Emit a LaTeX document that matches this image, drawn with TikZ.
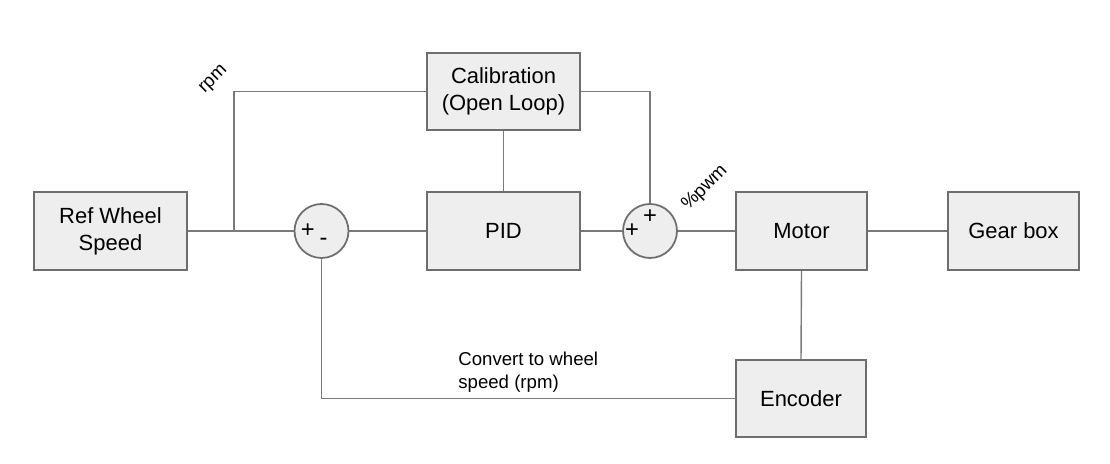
\documentclass[tikz,border=0pt]{standalone}
\usepackage{fontspec}
\setmainfont{Liberation Sans}
\usepackage{xcolor}
\usepackage{tikz}
\usetikzlibrary{calc, positioning}

\definecolor{blockfill}{HTML}{EEEEEE}
\definecolor{blockline}{HTML}{6E6E6E}
\definecolor{wireline}{HTML}{7A7A7A}

\begin{document}
\begin{tikzpicture}[
    block/.style={draw=blockline, fill=blockfill, line width=1pt, inner sep=0pt,
        align=center, font=\fontsize{12.5}{15.5}\selectfont},
    sumnode/.style={circle, draw=blockline, fill=blockfill, line width=1pt,
        minimum size=1.08cm, inner sep=0pt},
    wire/.style={draw=wireline, line width=0.8pt},
    lbl/.style={font=\fontsize{10.6}{13}\selectfont, inner sep=0pt},
    sgn/.style={font=\fontsize{13.5}{13.5}\selectfont, inner sep=0pt}
]
    \useasboundingbox (0,0) rectangle (22.2,9.28);

    % =================================================================
    % 1. CAC KHOI CHINH
    % =================================================================
    % Tin hieu dat
    \node[block, minimum width=3.06cm, minimum height=1.56cm] (ref) at (2.21,4.66) {Ref Wheel\\Speed};

    % Bo cong thu nhat
    \node[sumnode] (sumA) at (6.43,4.66) {};

    % Bo dieu khien
    \node[block, minimum width=3.06cm, minimum height=1.56cm] (pid) at (10.07,4.66) {PID};

    % Hieu chinh vong ho
    \node[block, minimum width=3.06cm, minimum height=1.54cm] (cal) at (10.07,7.45) {Calibration\\(Open Loop)};

    % Bo cong thu hai
    \node[sumnode] (sumB) at (13.0,4.66) {};

    % Dong co, hop so, encoder
    \node[block, minimum width=2.62cm, minimum height=1.56cm] (motor) at (16.03,4.66) {Motor};
    \node[block, minimum width=2.62cm, minimum height=1.56cm] (gear) at (20.27,4.66) {Gear box};
    \node[block, minimum width=2.60cm, minimum height=1.54cm] (enc) at (16.02,1.31) {Encoder};

    % =================================================================
    % 2. DAU CUA CAC BO CONG
    % =================================================================
    \node[sgn] (plusA) at ($(sumA)+(-0.276,0)$) {+};
    \node[sgn] (minusA) at ($(sumA)+(0.04,-0.214)$) {-};
    \node[sgn] (plusB) at ($(sumB)+(-0.36,0)$) {+};
    \node[sgn] (plusC) at ($(sumB)+(0,0.28)$) {+};

    % =================================================================
    % 3. CAC DUONG NOI
    % =================================================================
    \coordinate (split) at (4.68,4.66);
    \draw[wire] (ref.east) -- (sumA.west);
    \draw[wire] (sumA.east) -- (pid.west);
    \draw[wire] (pid.east) -- (sumB.west);
    \draw[wire] (sumB.east) -- (motor.west);
    \draw[wire] (motor.east) -- (gear.west);
    \draw[wire] (motor.south) -- (enc.north);
    \draw[wire] (cal.south) -- (pid.north);
    \draw[wire] (split) |- (cal.west);
    \draw[wire] (cal.east) -| (sumB.north);
    \draw[wire] (enc.west) -| (sumA.south);

    % =================================================================
    % 4. NHAN
    % =================================================================
    \node[lbl, rotate=45] (rpmlbl) at (4.28,7.68) {rpm};
    \node[lbl, rotate=45] (pwmlbl) at (14.1,5.52) {\%pwm};
    \node[lbl, align=left, anchor=west] (convlbl) at (9.16,1.84) {Convert to wheel\\speed (rpm)};

\end{tikzpicture}
\end{document}
